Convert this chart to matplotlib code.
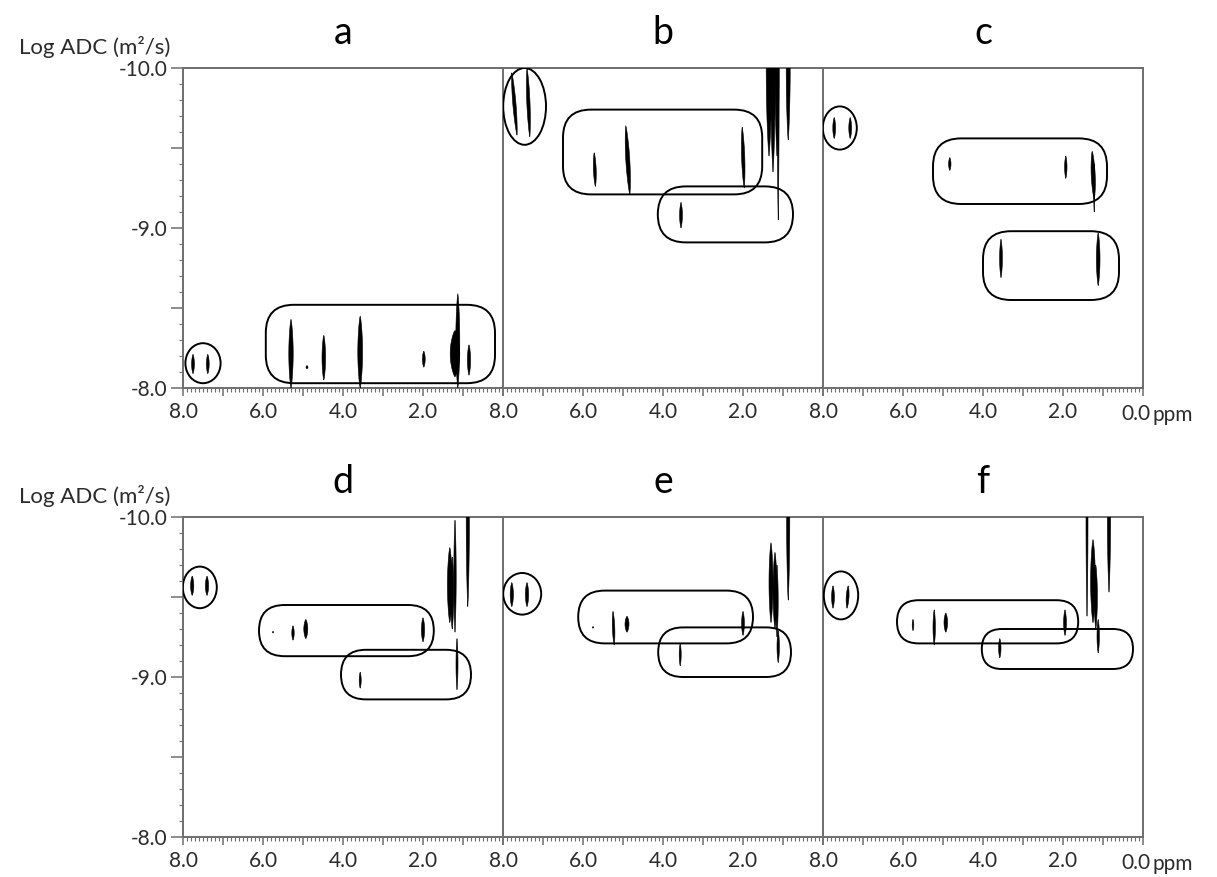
import numpy as np
import matplotlib.pyplot as plt
from matplotlib.patches import Ellipse, FancyBboxPatch
from matplotlib.ticker import MultipleLocator, FuncFormatter

plt.rcParams['font.family'] = ['Lato', 'DejaVu Sans']
plt.rcParams['axes.unicode_minus'] = False

PANELS = ["a", "b", "c", "d", "e", "f"]
YTOP = -10.0

# circled aromatic pairs: (ppm centre, logD centre, ppm width, logD height)
RINGS_A = [(7.50, -8.155, 0.88, 0.25)]
RINGS_B = [(7.46, -9.76, 1.07, 0.48)]
RINGS_C = [(7.58, -9.625, 0.85, 0.27)]
RINGS_D = [(7.58, -9.56, 0.85, 0.26)]
RINGS_E = [(7.52, -9.52, 0.95, 0.26)]
RINGS_F = [(7.55, -9.51, 0.86, 0.30)]

# rounded boxes: (ppm left, ppm right, logD top, logD bottom)
BOXES_A = [(5.93, 0.20, -8.52, -8.03)]
BOXES_B = [(6.50, 1.52, -9.74, -9.21), (4.13, 0.75, -9.26, -8.91)]
BOXES_C = [(5.25, 0.90, -9.56, -9.15), (4.00, 0.60, -8.98, -8.55)]
BOXES_D = [(6.10, 1.73, -9.45, -9.13), (4.05, 0.80, -9.17, -8.86)]
BOXES_E = [(6.12, 1.75, -9.54, -9.21), (4.12, 0.80, -9.31, -9.00)]
BOXES_F = [(6.15, 1.62, -9.48, -9.21), (4.03, 0.25, -9.30, -9.05)]

# cross peaks: (ppm, logD top, logD bottom, ppm width, lean in ppm)
SPOTS_A = [(7.75, -8.21, -8.09, 0.07, 0), (7.38, -8.21, -8.09, 0.07, 0),
           (5.30, -8.43, -8.00, 0.11, 0), (4.90, -8.14, -8.12, 0.05, 0),
           (4.48, -8.33, -8.05, 0.09, 0), (3.57, -8.45, -8.00, 0.12, 0),
           (1.98, -8.23, -8.13, 0.07, 0), (1.13, -8.59, -8.00, 0.10, 0),
           (1.20, -8.36, -8.07, 0.24, 0), (0.85, -8.27, -8.08, 0.08, 0)]
SPOTS_B = [(7.78, -9.97, -9.58, 0.08, -0.13), (7.40, -10.0, -9.57, 0.08, -0.07),
           (5.72, -9.47, -9.26, 0.07, -0.03), (4.93, -9.64, -9.21, 0.10, -0.10),
           (2.02, -9.63, -9.25, 0.08, -0.05), (3.55, -9.16, -9.00, 0.07, 0)]
SPOTS_C = [(7.72, -9.69, -9.56, 0.07, 0), (7.32, -9.69, -9.56, 0.07, 0),
           (4.83, -9.44, -9.36, 0.06, 0), (1.93, -9.45, -9.31, 0.06, 0),
           (1.27, -9.48, -9.18, 0.10, -0.05), (1.22, -9.40, -9.10, 0.03, 0),
           (3.55, -8.93, -8.69, 0.07, 0), (1.12, -8.97, -8.64, 0.09, 0)]
SPOTS_D = [(7.77, -9.63, -9.51, 0.08, 0), (7.40, -9.63, -9.51, 0.08, 0),
           (5.75, -9.285, -9.275, 0.03, 0), (5.25, -9.32, -9.23, 0.06, 0),
           (4.93, -9.36, -9.24, 0.10, 0), (2.00, -9.37, -9.22, 0.08, 0),
           (3.57, -9.03, -8.93, 0.05, 0), (1.15, -9.24, -8.92, 0.05, 0),
           (1.20, -9.98, -9.28, 0.06, 0), (1.33, -9.81, -9.34, 0.12, 0),
           (1.27, -9.75, -9.30, 0.08, 0)]
SPOTS_E = [(7.78, -9.59, -9.44, 0.08, 0), (7.40, -9.59, -9.44, 0.08, 0),
           (5.75, -9.315, -9.305, 0.03, 0), (5.25, -9.41, -9.20, 0.06, -0.03),
           (4.90, -9.38, -9.28, 0.10, 0), (2.00, -9.41, -9.26, 0.07, 0),
           (3.57, -9.21, -9.07, 0.05, 0), (1.12, -9.29, -9.09, 0.06, 0),
           (1.30, -9.84, -9.34, 0.10, 0), (1.20, -9.78, -9.30, 0.10, 0),
           (1.15, -9.70, -9.25, 0.06, 0)]
SPOTS_F = [(7.75, -9.57, -9.43, 0.07, 0), (7.37, -9.57, -9.43, 0.07, 0.03),
           (5.75, -9.36, -9.29, 0.04, 0), (5.22, -9.42, -9.20, 0.06, 0),
           (4.93, -9.40, -9.28, 0.09, 0), (1.95, -9.42, -9.26, 0.07, 0),
           (3.58, -9.24, -9.12, 0.06, 0), (1.12, -9.36, -9.15, 0.06, 0),
           (1.25, -9.86, -9.34, 0.12, 0), (1.18, -9.70, -9.30, 0.08, 0)]

# peaks cut off by the top of the window: (ppm, logD bottom, ppm width)
STREAKS_A = []
STREAKS_B = [(1.35, -9.45, 0.14), (1.25, -9.35, 0.12), (1.15, -9.45, 0.10),
             (1.12, -9.05, 0.05), (0.87, -9.55, 0.10)]
STREAKS_C = []
STREAKS_D = [(0.88, -9.44, 0.08)]
STREAKS_E = [(0.87, -9.48, 0.08)]
STREAKS_F = [(1.40, -9.38, 0.05), (0.85, -9.53, 0.08)]

RINGS = dict(zip(PANELS, [RINGS_A, RINGS_B, RINGS_C, RINGS_D, RINGS_E, RINGS_F]))
BOXES = dict(zip(PANELS, [BOXES_A, BOXES_B, BOXES_C, BOXES_D, BOXES_E, BOXES_F]))
SPOTS = dict(zip(PANELS, [SPOTS_A, SPOTS_B, SPOTS_C, SPOTS_D, SPOTS_E, SPOTS_F]))
STREAKS = dict(zip(PANELS, [STREAKS_A, STREAKS_B, STREAKS_C, STREAKS_D,
                            STREAKS_E, STREAKS_F]))

W, H = 1217, 877
X0, PW, PH = 183, 320, 320
ROW_TOPS = [68, 517]
FRAME = "#6e6e6e"
TXT = "#2b2b2b"


def lens(ax, ppm, d_top, d_bot, w, lean=0.0):
    # thin lens-shaped contour blob, like a DOSY cross peak
    t = np.linspace(0, 1, 40)
    xc = ppm + lean * t
    yc = d_top + (d_bot - d_top) * t
    hw = 0.5 * w * np.sin(np.pi * t) ** 0.7
    xs = np.concatenate([xc - hw, (xc + hw)[::-1]])
    ys = np.concatenate([yc, yc[::-1]])
    ax.fill(xs, ys, color="black", lw=0.4, zorder=3)


def xfmt(v, pos):
    r = int(round(v))
    if abs(v - r) < 1e-6 and r % 2 == 0 and r > 0:
        return f"{v:.1f}"
    return ""


def yfmt(v, pos):
    if abs(v - round(v)) < 1e-6:
        return f"{v:.1f}"
    return ""


fig = plt.figure(figsize=(W / 100, H / 100), dpi=100)

for i, name in enumerate(PANELS):
    row, col = divmod(i, 3)
    left = (X0 + col * PW) / W
    bottom = 1 - (ROW_TOPS[row] + PH) / H
    ax = fig.add_axes([left, bottom, PW / W, PH / H])
    ax.set_xlim(8.0, 0.0)
    ax.set_ylim(-8.0, -10.0)

    for side, sp in ax.spines.items():
        sp.set_color(FRAME)
        sp.set_linewidth(1.4)
    if col < 2:
        ax.spines["right"].set_visible(False)

    ax.xaxis.set_major_locator(MultipleLocator(1.0))
    ax.xaxis.set_minor_locator(MultipleLocator(0.1))
    ax.xaxis.set_major_formatter(FuncFormatter(xfmt))
    ax.tick_params(axis="x", which="major", length=6, width=1.1, color=FRAME,
                   labelsize=15, labelcolor=TXT, pad=4)
    ax.tick_params(axis="x", which="minor", length=3, width=0.8, color=FRAME)

    if col == 0:
        ax.yaxis.set_major_locator(MultipleLocator(0.5))
        ax.yaxis.set_minor_locator(MultipleLocator(0.1))
        ax.yaxis.set_major_formatter(FuncFormatter(yfmt))
        ax.tick_params(axis="y", which="major", length=9, width=1.1,
                       color=FRAME, labelsize=15, labelcolor=TXT, pad=2)
        ax.tick_params(axis="y", which="minor", length=3, width=0.8,
                       color=FRAME)
    else:
        ax.tick_params(axis="y", which="both", left=False, labelleft=False)

    # rounded boxes; mutation_aspect evens out the ppm / logD pixel scales
    aspect = (2.0 / PH) / (8.0 / PW)
    for p_left, p_right, d_top, d_bot in BOXES[name]:
        h = d_bot - d_top
        r = min(0.5 * h / aspect, 0.7)
        box = FancyBboxPatch((p_right, d_top), p_left - p_right, h,
                             boxstyle=f"round,pad=0,rounding_size={r}",
                             mutation_aspect=aspect, fill=False,
                             ec="black", lw=1.4, zorder=4)
        ax.add_patch(box)

    for pc, dc, pw_, dh in RINGS[name]:
        ax.add_patch(Ellipse((pc, dc), pw_, dh, fill=False, ec="black",
                             lw=1.4, zorder=4))

    for ppm, d_top, d_bot, w, lean in SPOTS[name]:
        lens(ax, ppm, d_top, d_bot, w, lean)

    for ppm, d_bot, w in STREAKS[name]:
        lens(ax, ppm, 2 * YTOP - d_bot, d_bot, w)

    fig.text(left + 0.5 * PW / W, 1 - (ROW_TOPS[row] - 35) / H, name,
             ha="center", va="center", fontsize=27, color="black")

    if col == 0:
        fig.text(170 / W, 1 - (ROW_TOPS[row] - 21) / H, "Log ADC (m²/s)",
                 ha="right", va="center", fontsize=16, color=TXT)
    if col == 2:
        # last panel's 0.0 label carries the unit
        yoff = -(6 + 4) * 100 / 72 - 2
        ax.annotate("0.0", xy=(0.0, -8.0), xycoords="data",
                    xytext=(-7, yoff), textcoords="offset pixels",
                    ha="center", va="top", fontsize=15, color=TXT,
                    annotation_clip=False)
        ax.annotate("ppm", xy=(0.0, -8.0), xycoords="data",
                    xytext=(9, yoff - 1), textcoords="offset pixels",
                    ha="left", va="top", fontsize=15, color=TXT,
                    annotation_clip=False)

fig.savefig("out.png", dpi=100, facecolor="white")
